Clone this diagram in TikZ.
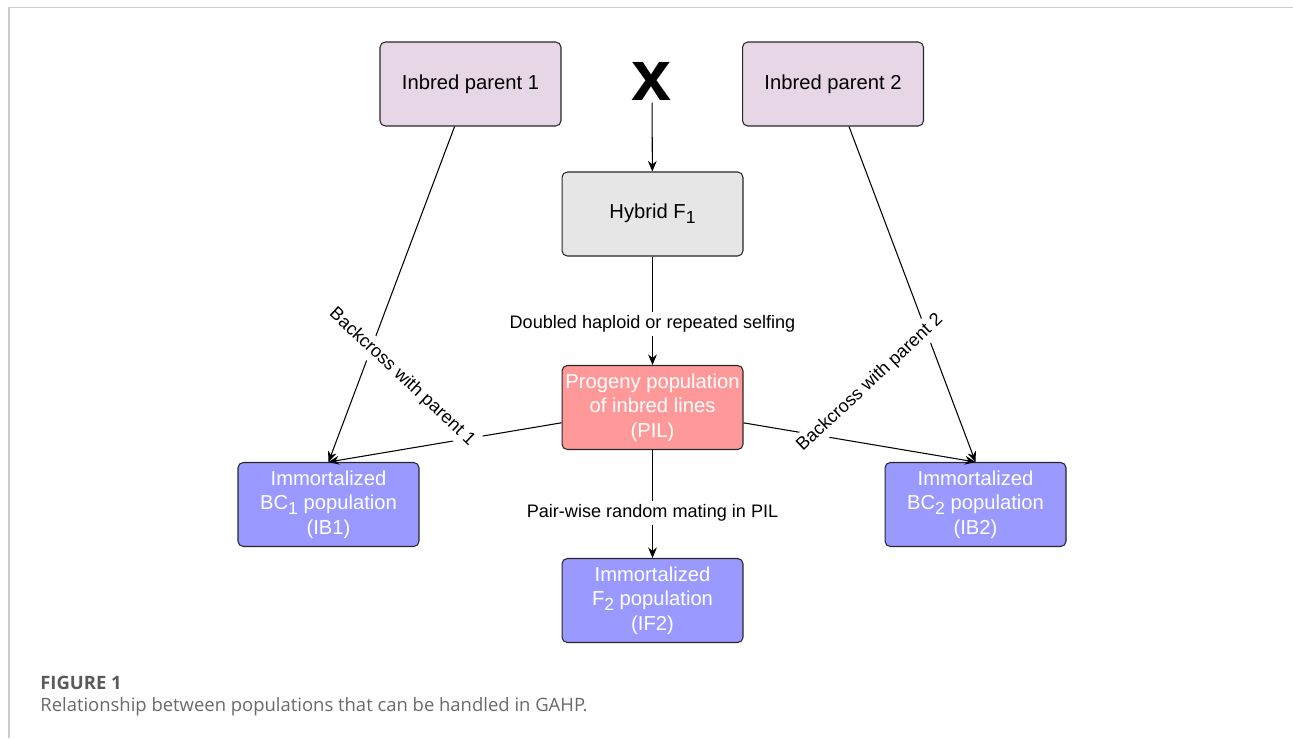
\documentclass[tikz,border=0pt]{standalone}
\usepackage{fontspec}
\setmainfont{Liberation Sans}
\newfontfamily\capfont{Open Sans}
\usetikzlibrary{arrows.meta}
\definecolor{parentlilac}{HTML}{E6D6E6}
\definecolor{hybridgrey}{HTML}{E6E6E6}
\definecolor{pilsalmon}{HTML}{FF9999}
\definecolor{immblue}{HTML}{9999FF}
\definecolor{framegrey}{HTML}{CCCCCC}
\definecolor{captiongrey}{HTML}{6A6A6A}
\def\bw{3.62cm}
\def\bh{1.68cm}
\newcommand{\idx}[1]{\raisebox{-0.45ex}{\fontsize{10}{10}\selectfont #1}}
\tikzset{popbox/.style = {draw = black!85, line width = 0.6pt, rounded corners = 3pt, minimum width = \bw, minimum height = \bh, align = center, inner sep = 1pt, font = \fontsize{11.5}{14}\selectfont}}
\tikzset{whitetext/.style = {popbox, text = white}}
\tikzset{link/.style = {line width = 0.6pt, -{Stealth[length = 6pt, width = 5pt]}}}
\tikzset{linklabel/.style = {fill = white, inner sep = 2pt, font = \fontsize{10.3}{12}\selectfont}}

\begin{document}
\begin{tikzpicture}[x = 0.02cm, y = -0.02cm]
	% Frame
	\useasboundingbox (0,0) rectangle (1293,738);
	\draw[framegrey, line width = 1pt] (9,738) -- (9,7.5) -- (1293,7.5);

	% Parents and cross
	\node[popbox, fill = parentlilac] (parent1) at (470.5,84) {Inbred parent 1};
	\node[popbox, fill = parentlilac] (parent2) at (833,84) {Inbred parent 2};
	\node[font = \fontsize{41}{41}\selectfont\bfseries, inner sep = 1pt] (cross) at (652,81.5) {x};

	% F1 and inbred lines
	\node[popbox, fill = hybridgrey] (hybrid) at (652.5,214) {Hybrid F\idx{1}};
	\node[whitetext, fill = pilsalmon] (pil) at (652.5,407.5) {Progeny population\\of inbred lines\\(PIL)};

	% Immortalized populations
	\node[whitetext, fill = immblue] (ib1) at (328.5,504.5) {Immortalized\\BC\idx{1} population\\(IB1)};
	\node[whitetext, fill = immblue] (ib2) at (975.5,504.5) {Immortalized\\BC\idx{2} population\\(IB2)};
	\node[whitetext, fill = immblue] (if2) at (652.5,600.5) {Immortalized\\F\idx{2} population\\(IF2)};

	% Connectors
	\draw[link] (cross) -- (hybrid);
	\draw[link] (hybrid) -- node[linklabel, pos = 0.62] (dh) {Doubled haploid or repeated selfing} (pil);
	\draw[link] (pil) -- node[linklabel, pos = 0.58] (rm) {Pair-wise random mating in PIL} (if2);
	%% Backcrosses
	\draw[link] (parent1) -- (ib1.north);
	\draw[link] (pil) -- (ib1.north);
	\draw[link] (parent2) -- (ib2.north);
	\draw[link] (pil) -- (ib2.north);
	\node[linklabel, rotate = -43] (bc1) at (402,377) {Backcross with parent 1};
	\node[linklabel, rotate = 43] (bc2) at (870,383) {Backcross with parent 2};

	% Caption
	\node[anchor = base west, inner sep = 0, text = captiongrey!85!black, font = \capfont\bfseries\fontsize{10.5}{12}\selectfont] (figno) at (40,689) {FIGURE 1};
	\node[anchor = base west, inner sep = 0, text = captiongrey, font = \capfont\fontsize{10.5}{12}\selectfont] (figtext) at (40,711) {Relationship between populations that can be handled in GAHP.};
\end{tikzpicture}
\end{document}
